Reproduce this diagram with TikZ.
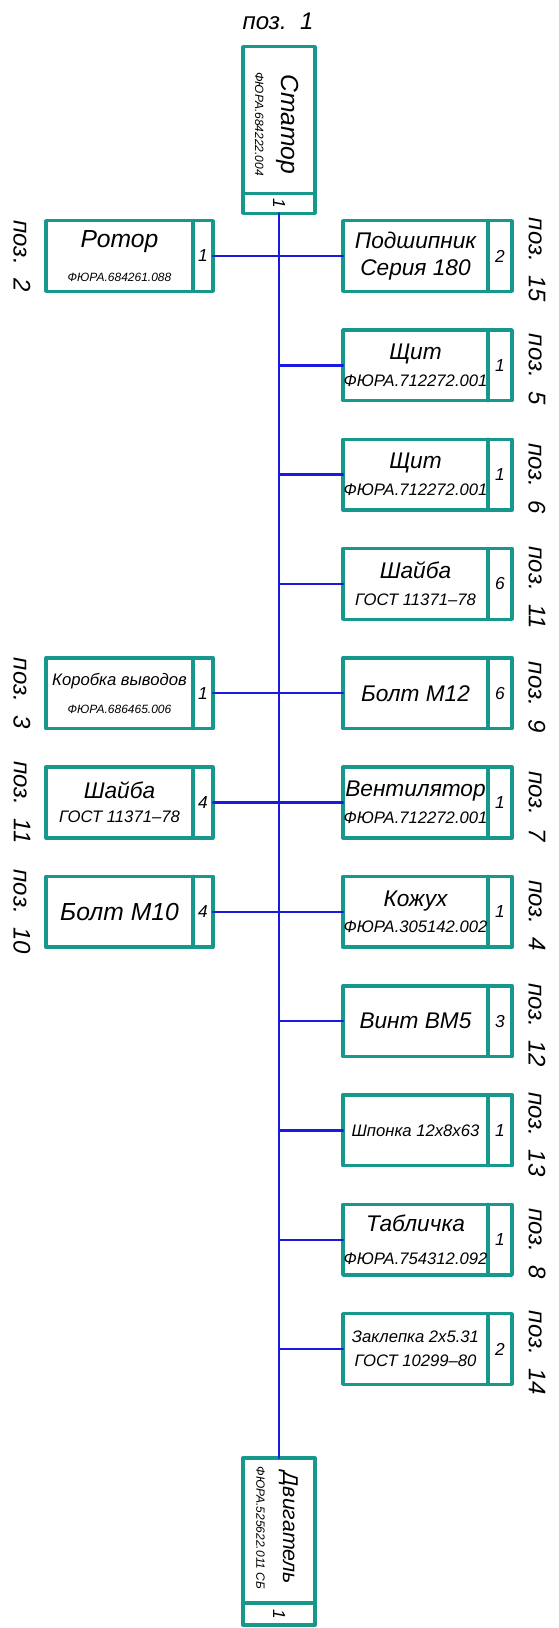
\documentclass[tikz,border=0pt]{standalone}
\usepackage{fontspec}
\setmainfont{Liberation Sans}
\usetikzlibrary{calc}

\definecolor{boxteal}{RGB}{22,152,140}
\definecolor{linkblue}{RGB}{25,25,225}
\newcommand\ttl{\fontsize{17}{20}\selectfont}
\newcommand\bigttl{\fontsize{18.5}{20}\selectfont}
\newcommand\code{\fontsize{12.5}{20}\selectfont}
\newcommand\mtxt{\fontsize{12.5}{20}\selectfont}
\newcommand\smallcode{\fontsize{9}{20}\selectfont}

\begin{document}
\begin{tikzpicture}[x=0.75pt,y=-0.75pt,line cap=round,line join=round,
  partbox/.style={draw=boxteal,line width=2.6pt,minimum width=126.75pt,minimum height=53pt,inner sep=0pt,outer sep=0pt},
  endbox/.style={draw=boxteal,line width=2.6pt,minimum width=54pt,minimum height=125pt,inner sep=0pt,outer sep=0pt},
  divline/.style={draw=boxteal,line width=2.6pt},
  link/.style={draw=linkblue,line width=1.8pt},
  txt/.style={font=\itshape\fontsize{12}{20}\selectfont,align=center,inner sep=0pt},
  cnt/.style={font=\itshape\fontsize{13}{15}\selectfont,inner sep=0pt},
  poz/.style={font=\itshape\fontsize{18}{20}\selectfont,inner sep=0pt}]
\useasboundingbox (0,0) rectangle (559,1628);

% stator and motor
\node[endbox] (stat) at (279,130) {};
\draw[divline] ($(stat.south west)+(0,-20)$) -- ($(stat.south east)+(0,-20)$);
\node[txt,rotate=-90] (statt) at (277,124) {\bigttl Статор\\\smallcode ФЮРА.684222.004};
\node[cnt,rotate=-90] (statc) at ($(stat.south)+(0,-10)$) {1};
\node[poz] (pos1) at (278,21) {поз.\ \ 1};

\node[endbox] (motor) at (279,1541.5) {};
\draw[divline] ($(motor.south west)+(0,-22)$) -- ($(motor.south east)+(0,-22)$);
\node[txt,rotate=-90] (motort) at (277,1528) {\fontsize{16}{20}\selectfont Двигатель\\\smallcode ФЮРА.525622.011 СБ};
\node[cnt,rotate=-90] (motorc) at ($(motor.south)+(0,-11)$) {1};

\draw[link] (stat.south) -- (motor.north);

% right column
\foreach \n/\k/\txt/\q/\pos in {
  pr15/0/{\ttl Подшипник\\\ttl Серия 180}/2/15,
  pr5/1/{\ttl Щит\\\code ФЮРА.712272.001}/1/5,
  pr6/2/{\ttl Щит\\\code ФЮРА.712272.001}/1/6,
  pr11/3/{\ttl Шайба\\\code ГОСТ 11371–78}/6/11,
  pr9/4/{\ttl Болт М12}/6/9,
  pr7/5/{\ttl Вентилятор\\\code ФЮРА.712272.001}/1/7,
  pr4/6/{\ttl Кожух\\\code ФЮРА.305142.002}/1/4,
  pr12/7/{\ttl Винт ВМ5}/3/12,
  pr13/8/{\mtxt Шпонка 12x8x63}/1/13,
  pr8/9/{\ttl Табличка\\[5pt]\code ФЮРА.754312.092}/1/8,
  pr14/10/{\mtxt Заклепка 2x5.31\\[-2pt]\mtxt ГОСТ 10299–80}/2/14}
{
  \node[partbox] (\n) at (427.5,256+109.3*\k) {};
  \draw[divline] ($(\n.north east)+(-24,0)$) -- ($(\n.south east)+(-24,0)$);
  \node[txt] (\n-t) at ($(\n.center)+(-12,0)$) {\txt};
  \node[cnt] (\n-c) at ($(\n.east)+(-12,0)$) {\q};
  \node[poz,rotate=-90] (\n-p) at ($(\n.east)+(25,4)$) {поз.\ \ \pos};
  \draw[link] (\n.west) -- (\n.west -| stat.south);
}

% left column
\foreach \n/\k/\txt/\q/\pos in {
  pl2/0/{\bigttl Ротор\\[6pt]\smallcode ФЮРА.684261.088}/1/2,
  pl3/4/{\mtxt Коробка выводов\\[1pt]\smallcode ФЮРА.686465.006}/1/3,
  pl11/5/{\ttl Шайба\\[-2pt]\code ГОСТ 11371–78}/4/11,
  pl10/6/{\bigttl Болт М10}/4/10}
{
  \node[partbox,minimum width=125.25pt] (\n) at (129.5,256+109.3*\k) {};
  \draw[divline] ($(\n.north east)+(-20,0)$) -- ($(\n.south east)+(-20,0)$);
  \node[txt] (\n-t) at ($(\n.center)+(-10,0)$) {\txt};
  \node[cnt] (\n-c) at ($(\n.east)+(-10,0)$) {\q};
  \node[poz,rotate=-90] (\n-p) at ($(\n.west)+(-24,0)$) {поз.\ \ \pos};
  \draw[link] (\n.east) -- (\n.east -| stat.south);
}
\end{tikzpicture}
\end{document}
